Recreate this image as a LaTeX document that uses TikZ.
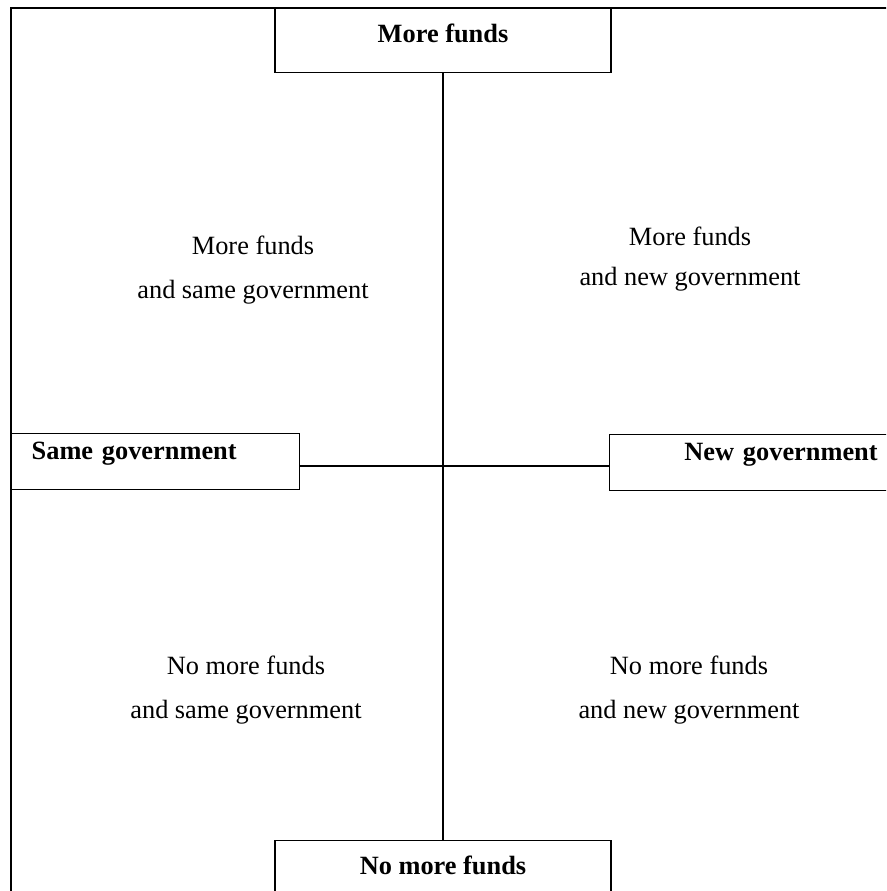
\documentclass[tikz,border=0pt]{standalone}
\usepackage{fontspec}
\setmainfont{Liberation Serif}
\usetikzlibrary{positioning,calc}

\begin{document}
\begin{tikzpicture}[
  x=0.02cm, y=-0.02cm,
  every node/.style={font=\fontsize{15}{22}\selectfont},
  axis/.style={line width=0.8pt},
  axisbox/.style={draw, line width=0.8pt, font=\fontsize{15}{22}\selectfont\bfseries, inner ysep=0pt},
  fundsbox/.style={axisbox, minimum width=6.72cm, inner xsep=0pt, text height=0.68cm, text depth=0.6cm},
  govbox/.style={axisbox, text width=4.96cm, inner xsep=0.4cm, text height=0.52cm, text depth=0.6cm},
  quadrant/.style={align=center}
]
\clip (0,0) rectangle (886,891);

% outer frame (open on the right and at the bottom)
\draw[axis] (11,905) |- (905,8);

\node[fundsbox, anchor=north] (morefunds) at (443,8) {More funds};
\node[fundsbox, anchor=north] (nofunds) at (443,840) {No more funds};
\node[govbox, align=left, anchor=north west] (samegov) at (11,433) {Same government};
\node[govbox, align=right, anchor=north west] (newgov) at (609,434) {New government};

\coordinate (centre) at (442,466);
\draw[axis] (morefunds) -- (nofunds);
\draw[axis] (samegov.east |- centre) -- (newgov.west |- centre);

% the four quadrants
\node[quadrant] (q1) at (253,270) {More funds\\[0.1cm] and same government};
\node[quadrant] (q2) at (690,259) {More funds\\[0.04cm] and new government};
\node[quadrant] (q3) at (246,690) {No more funds\\[0.12cm] and same government};
\node[quadrant] (q4) at (689,690) {No more funds\\[0.12cm] and new government};

\end{tikzpicture}
\end{document}
